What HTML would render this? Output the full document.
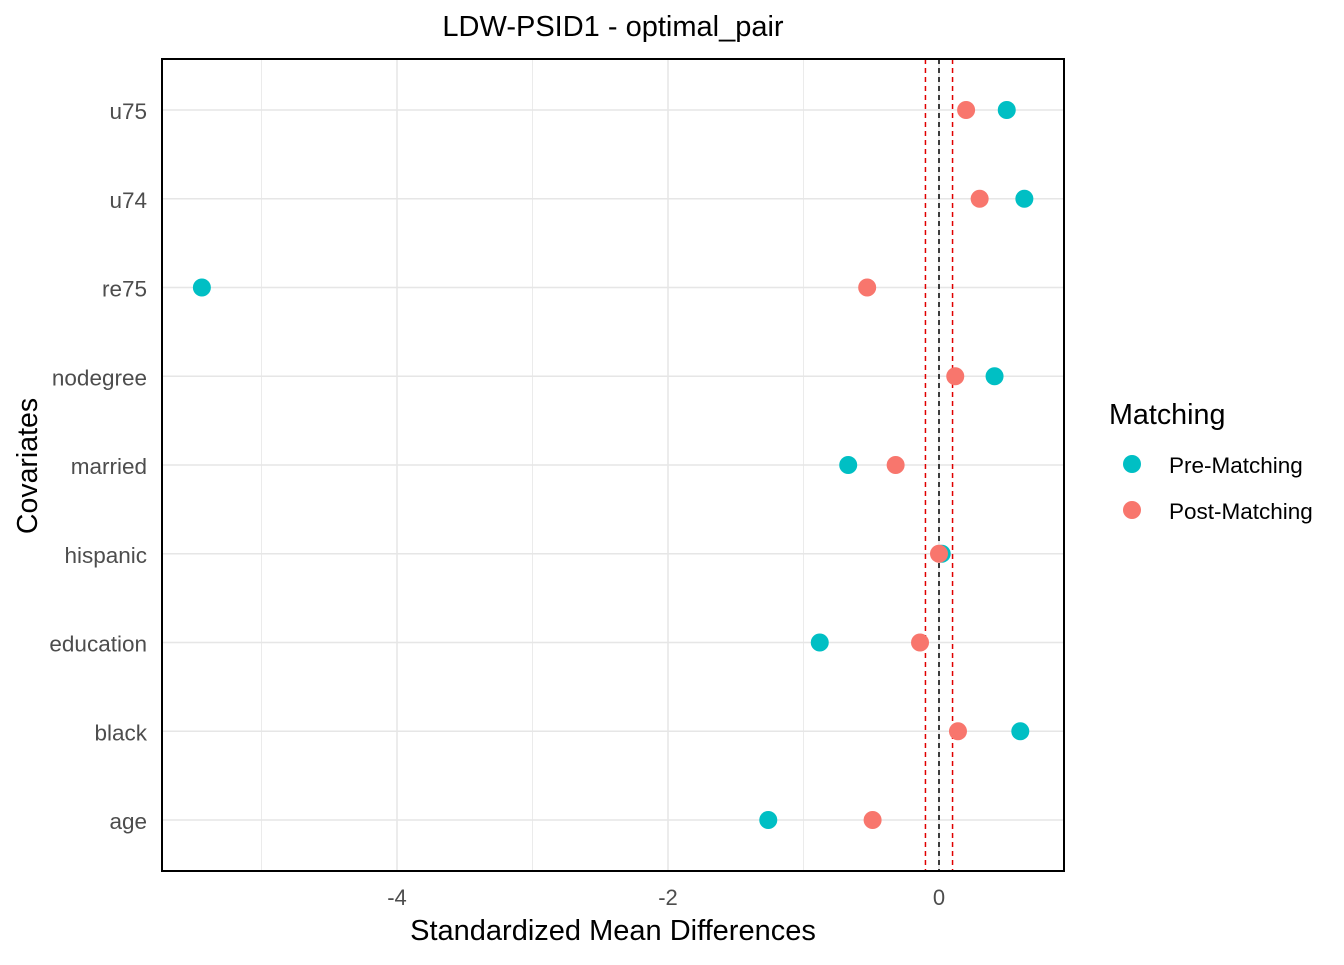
<!DOCTYPE html>
<html><head><meta charset="utf-8"><style>
body{margin:0;background:#fff;font-family:"Liberation Sans",Arial,sans-serif;}
</style></head><body>
<svg id="chart" width="1344" height="960" xmlns="http://www.w3.org/2000/svg" font-family="Liberation Sans, Arial, sans-serif"></svg>
<script>
const covariates = ["age","black","education","hispanic","married","nodegree","re75","u74","u75"];
const preMatching = [-1.26,0.60,-0.88,0.02,-0.67,0.41,-5.44,0.63,0.50];
const postMatching = [-0.49,0.14,-0.14,0.00,-0.32,0.12,-0.53,0.30,0.20];
const xTicks = [-4,-2,0];
const xMinor = [-5,-3,-1];
const threshold = 0.1;

const svg = document.getElementById('chart');
const NS = 'http://www.w3.org/2000/svg';
const PL=162, PR=1064, PT=59, PB=871;
function xs(v){return 939 + v*135.5;}
function ys(i){return 820 - i*88.75;}
function mk(tag, attrs, parent){const e=document.createElementNS(NS,tag);for(const k in attrs)e.setAttribute(k,attrs[k]);(parent||svg).appendChild(e);return e;}

xMinor.forEach(v=>{const l=mk('line',{x1:xs(v),x2:xs(v),y1:PT,y2:PB,stroke:'#ebebeb','stroke-width':1});

});
xTicks.forEach(v=>{const l=mk('line',{x1:xs(v),x2:xs(v),y1:PT,y2:PB,stroke:'#e6e6e6','stroke-width':1.5});

});
covariates.forEach((c,i)=>{const l=mk('line',{x1:PL,x2:PR,y1:ys(i),y2:ys(i),stroke:'#e6e6e6','stroke-width':1.5});

});

[-threshold, threshold].forEach(v=>{const l=mk('line',{x1:xs(v),x2:xs(v),y1:PT,y2:PB,stroke:'#e00000','stroke-width':1.5,'stroke-dasharray':'5,4'});

});
const zl=mk('line',{x1:xs(0),x2:xs(0),y1:PT,y2:PB,stroke:'#000','stroke-width':1.5,'stroke-dasharray':'5,4'});



covariates.forEach((c,i)=>{
  const p=mk('circle',{cx:xs(preMatching[i]),cy:ys(i),r:9,fill:'#00BFC4'});
  
  
  const q=mk('circle',{cx:xs(postMatching[i]),cy:ys(i),r:9,fill:'#F8766D'});
  
  
});

const b=mk('rect',{x:PL,y:PT,width:PR-PL,height:PB-PT,fill:'none',stroke:'#000','stroke-width':2});



covariates.forEach((c,i)=>{const t=mk('text',{x:147,y:ys(i)+9,'text-anchor':'end','font-size':22.5,fill:'#4d4d4d'});t.textContent=c;

});
xTicks.forEach(v=>{const t=mk('text',{x:xs(v),y:905,'text-anchor':'middle','font-size':22,fill:'#4d4d4d'});t.textContent=v;

});

const tt=mk('text',{x:613,y:36,'text-anchor':'middle','font-size':29,fill:'#000'});tt.textContent='LDW-PSID1 - optimal_pair';


const xt=mk('text',{x:613,y:940,'text-anchor':'middle','font-size':29,fill:'#000'});xt.textContent='Standardized Mean Differences';


const yt=mk('text',{x:0,y:0,'text-anchor':'middle','font-size':28.5,fill:'#000',transform:'translate(37,466) rotate(-90)'});yt.textContent='Covariates';



const lt=mk('text',{x:1109,y:424,'font-size':28.7,fill:'#000'});lt.textContent='Matching';


[['Pre-Matching','#00BFC4',464],['Post-Matching','#F8766D',510]].forEach(([n,col,y])=>{
  const c=mk('circle',{cx:1132,cy:y,r:9,fill:col});
  
  
  const t=mk('text',{x:1169,y:y+9,'font-size':22.5,fill:'#000'});t.textContent=n;
  
  
});
</script>
</body></html>
